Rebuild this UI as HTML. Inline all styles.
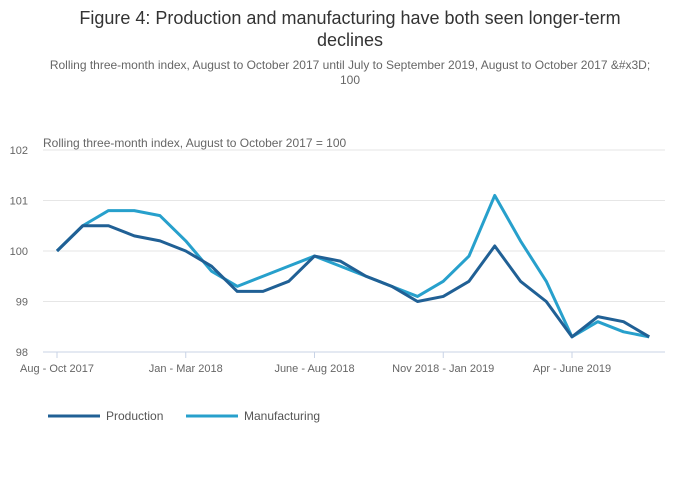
<!DOCTYPE html>
<html><head><meta charset="utf-8"><style>
body{margin:0;background:#fff;font-family:"Liberation Sans",sans-serif;}
#wrap{position:relative;width:700px;height:502px;overflow:hidden}
</style></head><body>
<div id="wrap">
<svg id="chart" width="700" height="502">
<text x="350" y="24" text-anchor="middle" font-size="18" fill="#333">Figure 4: Production and manufacturing have both seen longer-term</text>
<text x="350" y="46" text-anchor="middle" font-size="18" fill="#333">declines</text>
<text x="350" y="69" text-anchor="middle" font-size="12" fill="#666">Rolling three-month index, August to October 2017 until July to September 2019, August to October 2017 &amp;#x3D;</text>
<text x="350" y="84" text-anchor="middle" font-size="12" fill="#666">100</text>
<text x="43" y="147" font-size="12" fill="#666">Rolling three-month index, August to October 2017 = 100</text>
<g id="grid"></g><g id="xaxis"></g><g id="lines"></g>
<g>
<line x1="48" y1="416" x2="100" y2="416" stroke="#206095" stroke-width="3"/>
<text x="106" y="420" font-size="12" fill="#555">Production</text>
<line x1="186" y1="416" x2="238" y2="416" stroke="#27a0cc" stroke-width="3"/>
<text x="244" y="420" font-size="12" fill="#555">Manufacturing</text>
</g>
</svg>
</div>
<script>
const categories=["Aug - Oct 2017","Sep - Nov 2017","Oct - Dec 2017","Nov 2017 - Jan 2018","Dec 2017 - Feb 2018","Jan - Mar 2018","Feb - Apr 2018","Mar - May 2018","Apr - Jun 2018","May - Jul 2018","June - Aug 2018","Jul - Sep 2018","Aug - Oct 2018","Sep - Nov 2018","Oct - Dec 2018","Nov 2018 - Jan 2019","Dec 2018 - Feb 2019","Jan - Mar 2019","Feb - Apr 2019","Mar - May 2019","Apr - June 2019","May - Jul 2019","Jun - Aug 2019","Jul - Sep 2019"];
const production=[100.0,100.5,100.5,100.3,100.2,100.0,99.7,99.2,99.2,99.4,99.9,99.8,99.5,99.3,99.0,99.1,99.4,100.1,99.4,99.0,98.3,98.7,98.6,98.3];
const manufacturing=[100.0,100.5,100.8,100.8,100.7,100.2,99.6,99.3,99.5,99.7,99.9,99.7,99.5,99.3,99.1,99.4,99.9,101.1,100.2,99.4,98.3,98.6,98.4,98.3];
const yTicks=[98,99,100,101,102];
const xTickIdx=[0,5,10,15,20];
const xTickLabels=["Aug - Oct 2017","Jan - Mar 2018","June - Aug 2018","Nov 2018 - Jan 2019","Apr - June 2019"];
const NS="http://www.w3.org/2000/svg";
const x=i=>57+i*25.75;
const y=v=>352-(v-98)*50.5;
function mk(t,a,p){const e=document.createElementNS(NS,t);for(const k in a)e.setAttribute(k,a[k]);p.appendChild(e);return e;}
const grid=document.getElementById('grid');
yTicks.forEach(v=>{
 const l=mk('line',{x1:43,x2:665,y1:y(v),y2:y(v),stroke:v===98?'#c8d3e6':'#e6e6e6','stroke-width':1},grid);
 
 
 const t=mk('text',{x:28,y:y(v)+4,'text-anchor':'end','font-size':11,fill:'#666'},grid);
 t.textContent=v;
 
 
});
const xa=document.getElementById('xaxis');
xTickIdx.forEach((i,k)=>{
 const l=mk('line',{x1:x(i),x2:x(i),y1:352,y2:358,stroke:'#c8d3e6'},xa);
 
 
 const t=mk('text',{x:x(i),y:372,'text-anchor':'middle','font-size':11,fill:'#666'},xa);
 t.textContent=xTickLabels[k];
 
 
});
const lg=document.getElementById('lines');
function series(vals,color,name){
 const p=mk('polyline',{points:vals.map((v,i)=>x(i)+','+y(v)).join(' '),fill:'none',stroke:color,'stroke-width':3,'stroke-linejoin':'round'},lg);
 
 
}
series(manufacturing,'#27a0cc','manufacturing-line');
series(production,'#206095','production-line');
</script>
</body></html>
